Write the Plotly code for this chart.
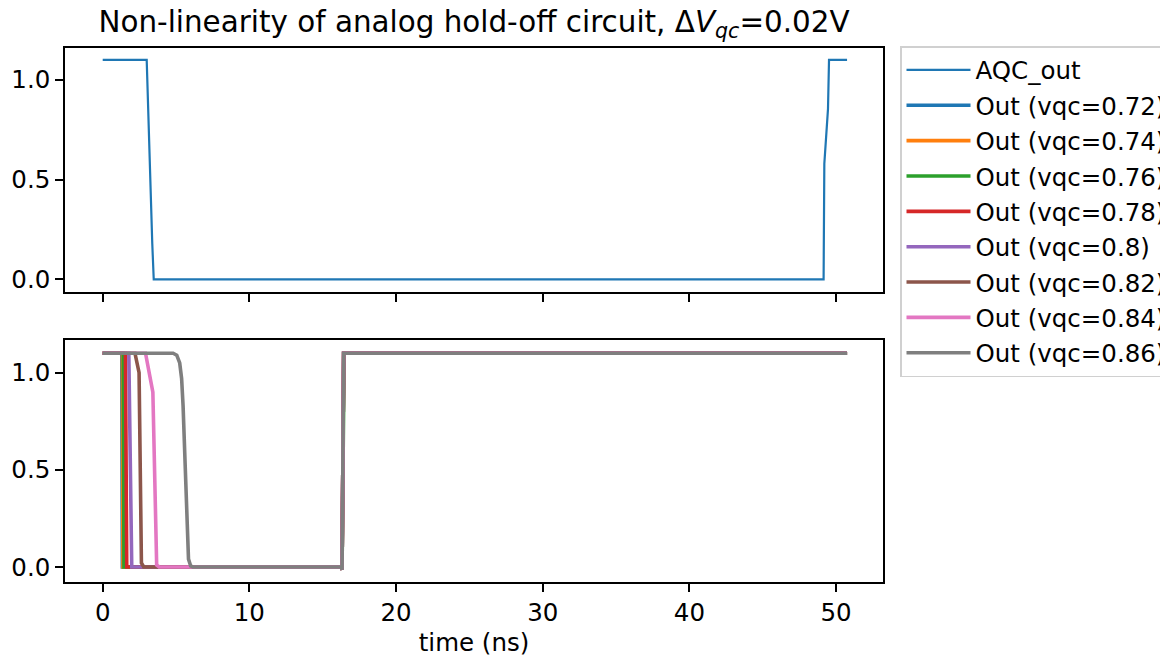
import plotly.graph_objects as go

# ---------------- data ----------------
aqc_time = [0.0, 3.0, 3.38, 3.48, 49.15, 49.2, 49.45, 49.52, 50.75]
aqc_v = [1.1, 1.1, 0.18, 0.0, 0.0, 0.58, 0.855, 1.1, 1.1]

vqc_labels = ["0.72", "0.74", "0.76", "0.78", "0.8", "0.82", "0.84", "0.86"]

out_time = {
    "0.72": [0.0, 1.30, 1.34, 16.28, 16.32, 16.40, 16.43, 50.75],
    "0.74": [0.0, 1.34, 1.38, 16.28, 16.32, 16.40, 16.43, 50.75],
    "0.76": [0.0, 1.40, 1.45, 16.28, 16.32, 16.40, 16.46, 50.75],
    "0.78": [0.0, 1.55, 1.64, 16.28, 16.32, 16.40, 16.43, 50.75],
    "0.8": [0.0, 1.78, 1.98, 16.28, 16.32, 16.40, 16.43, 50.75],
    "0.82": [0.0, 2.20, 2.48, 2.64, 2.80, 16.28, 16.32, 16.40, 16.43, 50.75],
    "0.84": [0.0, 2.92, 3.42, 3.68, 3.85, 16.28, 16.32, 16.40, 16.43, 50.75],
    "0.86": [0.0, 4.80, 5.05, 5.25, 5.38, 5.48, 5.85, 6.0, 6.15, 16.28, 16.32, 16.40, 16.43, 50.75],
}
out_v = {
    "0.72": [1.1, 1.1, 0.0, 0.0, -0.015, 1.0, 1.1, 1.1],
    "0.74": [1.1, 1.1, 0.0, 0.0, -0.015, 1.0, 1.1, 1.1],
    "0.76": [1.1, 1.1, 0.0, 0.0, -0.015, 0.98, 1.1, 1.1],
    "0.78": [1.1, 1.1, 0.0, 0.0, -0.015, 1.0, 1.1, 1.1],
    "0.8": [1.1, 1.1, 0.0, 0.0, -0.015, 1.0, 1.1, 1.1],
    "0.82": [1.1, 1.1, 1.0, 0.02, 0.0, 0.0, -0.015, 1.0, 1.1, 1.1],
    "0.84": [1.1, 1.1, 0.9, 0.01, 0.0, 0.0, -0.015, 1.0, 1.1, 1.1],
    "0.86": [1.1, 1.1, 1.09, 1.05, 0.97, 0.83, 0.04, 0.005, 0.0, 0.0, -0.015, 1.0, 1.1, 1.1],
}

colors = ["#1f77b4", "#ff7f0e", "#2ca02c", "#d62728", "#9467bd", "#8c564b", "#e377c2", "#7f7f7f"]

x_ticks = [0, 10, 20, 30, 40, 50]
y_ticks = [0.0, 0.5, 1.0]

# ---------------- figure ----------------
W, H = 1160, 657
FS = 24.5
fig = go.Figure()

fig.add_trace(go.Scatter(x=aqc_time, y=aqc_v, mode="lines", name="AQC_out",
                         line=dict(color="#1f77b4", width=2.2),
                         xaxis="x", yaxis="y", legendgroup="g0"))

for i, lab in enumerate(vqc_labels):
    fig.add_trace(go.Scatter(x=out_time[lab], y=out_v[lab], mode="lines",
                             name=f"Out (vqc={lab})",
                             line=dict(color=colors[i], width=3.6),
                             xaxis="x2", yaxis="y2", legendgroup=f"g{i+1}"))

xdom = [65 / W, 883 / W]
axis_common = dict(showline=True, linecolor="black", linewidth=1.6, mirror=True,
                   ticks="outside", ticklen=8, tickwidth=1.6, tickcolor="black",
                   showgrid=False, zeroline=False,
                   tickfont=dict(family="DejaVu Sans", size=FS, color="black"))

fig.update_layout(
    width=W, height=H,
    margin=dict(l=0, r=0, t=0, b=0, autoexpand=False),
    paper_bgcolor="white", plot_bgcolor="white",
    font=dict(family="DejaVu Sans", color="black"),
    title=dict(text="Non-linearity of analog hold-off circuit, Δ<i>V</i><sub><i>qc</i></sub>=0.02V",
               x=474 / W, xanchor="center", y=1 - 22 / H, yanchor="middle",
               font=dict(family="DejaVu Sans", size=29.4, color="black")),
    xaxis=dict(domain=xdom, range=[-2.57, 53.2], anchor="y", matches="x2",
               tickvals=x_ticks, showticklabels=False, **axis_common),
    yaxis=dict(domain=[1 - 292 / H, 1 - 48 / H], range=[-0.063, 1.16], anchor="x",
               tickvals=y_ticks, tickformat=".1f", **axis_common),
    xaxis2=dict(domain=xdom, range=[-2.57, 53.2], anchor="y2",
                tickvals=x_ticks, title=dict(text="time (ns)", standoff=9,
                                             font=dict(family="DejaVu Sans", size=FS, color="black")),
                **axis_common),
    yaxis2=dict(domain=[1 - 581.7 / H, 1 - 340 / H], range=[-0.076, 1.168], anchor="x2",
                tickvals=y_ticks, tickformat=".1f", **axis_common),
    legend=dict(x=900 / W, y=1 - 46 / H, xanchor="left", yanchor="top",
                font=dict(family="DejaVu Sans", size=FS, color="black"),
                bgcolor="rgba(255,255,255,0.8)", bordercolor="#d0d0d0", borderwidth=1.5,
                tracegroupgap=0.5, traceorder="grouped", itemwidth=64),
    showlegend=True,
)

fig.write_html("out.html")
